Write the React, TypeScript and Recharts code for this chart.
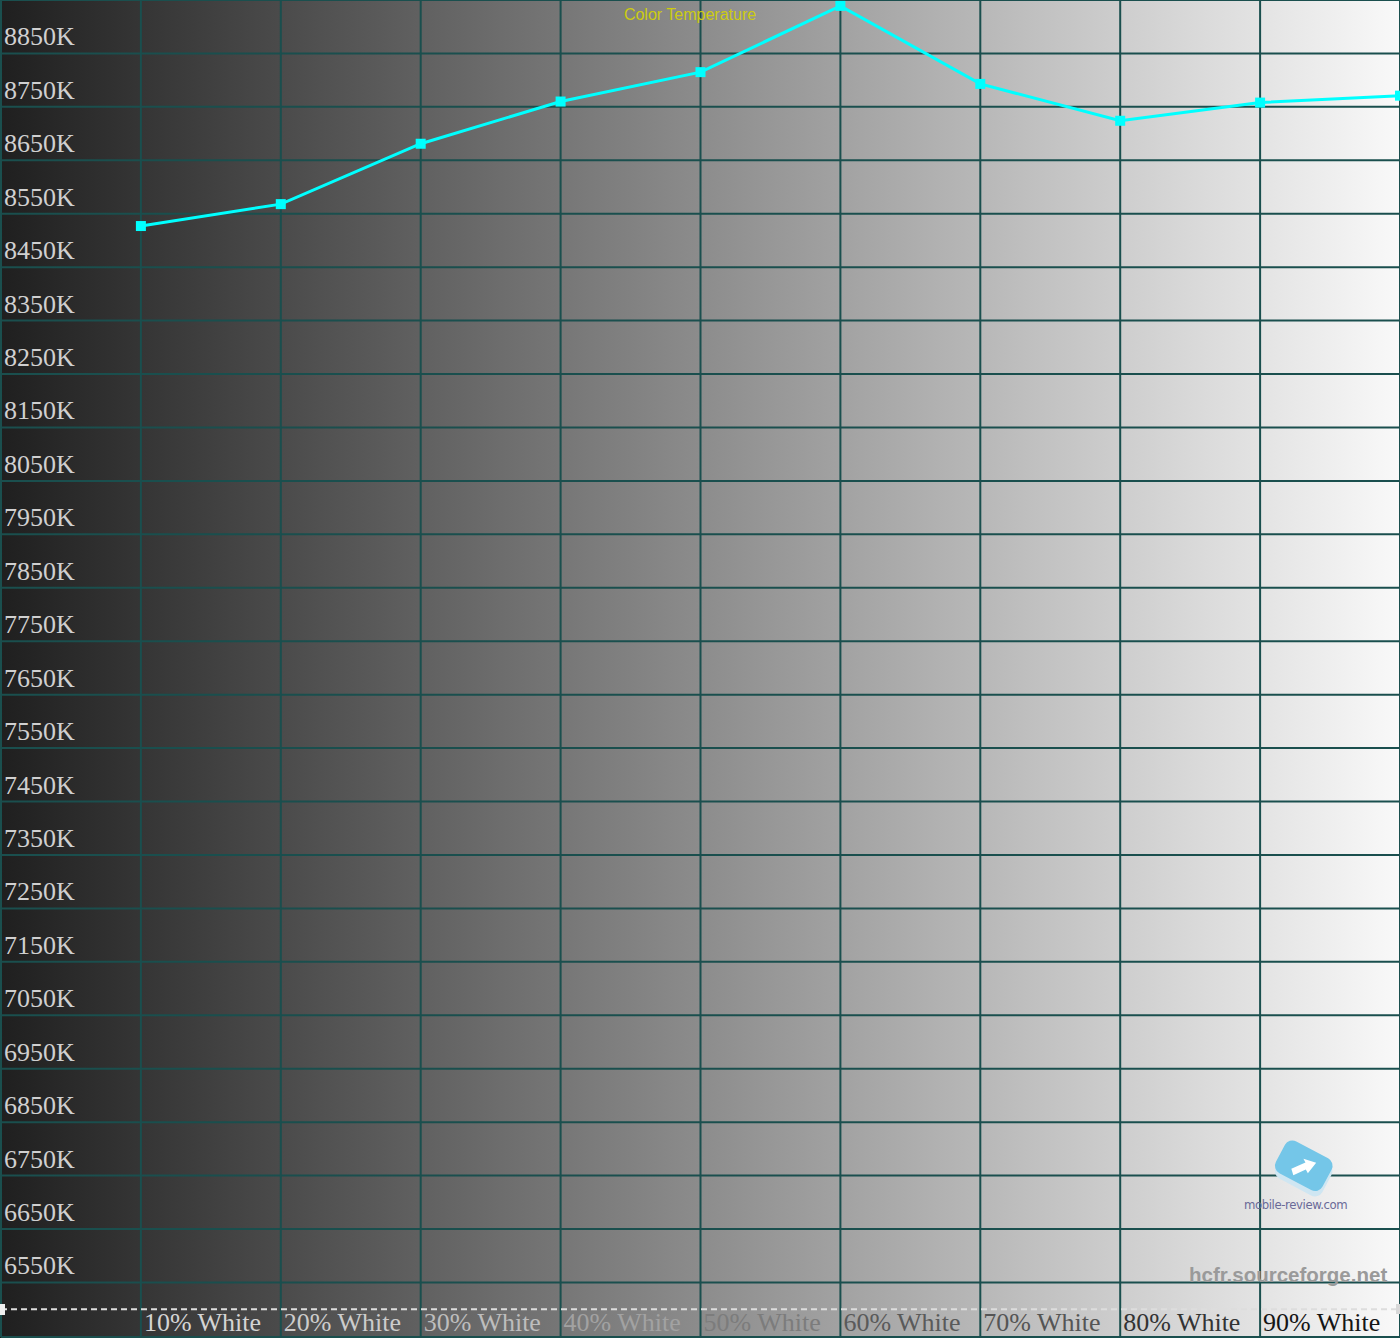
import React from 'react';
import { LineChart, Line, XAxis, YAxis, CartesianGrid, ReferenceLine } from 'recharts';

const levels = [10, 20, 30, 40, 50, 60, 70, 80, 90, 100];
const tempK = [8527, 8568, 8681, 8760, 8815, 8939, 8793, 8724, 8758, 8771];
const yTicks = [6550, 6650, 6750, 6850, 6950, 7050, 7150, 7250, 7350, 7450, 7550, 7650, 7750, 7850, 7950, 8050, 8150, 8250, 8350, 8450, 8550, 8650, 8750, 8850];
// label colours as they appear over the grey ramp
const xLabelColors = ['#d4d4d4', '#cccccc', '#bdbdbd', '#a2a2a2', '#7c7c7c', '#5a5a5a', '#555555', '#333333', '#151515', '#111111'];

const data = levels.map((lv, i) => ({ level: lv, temp: tempK[i] }));

const W = 1400;
const H = 1338;
const GRID = '#1a4f4e';
const serif = '"Liberation Serif", "Times New Roman", serif';

const SquareDot = (props: any) => {
  const { cx, cy } = props;
  if (cx == null || cy == null) return null;
  return <rect x={cx - 5} y={cy - 5} width={10} height={10} fill="#00ffff" />;
};

const renderYTick = (props: any) => {
  const { y, payload } = props;
  return (
    <text key={`y-${payload.value}`} x={4} y={y - 8} fill="#d0d0d0" fontFamily={serif} fontSize={26} textAnchor="start">
      {payload.value}K
    </text>
  );
};

const renderXTick = (props: any) => {
  const { x, payload, index } = props;
  // the 100% label falls past the right edge in the original, so it is not drawn
  if (payload.value >= 100) return <g key="x-last" />;
  return (
    <text key={`x-${payload.value}`} x={x + 3} y={H - 7} fill={xLabelColors[index] || '#111'} fontFamily={serif} fontSize={26} textAnchor="start">
      {payload.value}% White
    </text>
  );
};

export default function App() {
  return (
    <div
      style={{
        position: 'absolute',
        left: 0,
        top: 0,
        width: W,
        height: H,
        overflow: 'hidden',
        background: 'linear-gradient(to right, #1f1f1f, #f9f9f9)',
      }}
    >
      <LineChart width={W} height={H} data={data} margin={{ top: 0, right: 0, bottom: 0, left: 0 }} style={{ overflow: 'visible' }}>
        <CartesianGrid stroke={GRID} strokeWidth={2} vertical horizontal />
        <XAxis
          dataKey="level"
          type="number"
          domain={[0, 100]}
          ticks={levels}
          height={1}
          axisLine={false}
          tickLine={false}
          tick={renderXTick}
          interval={0}
        />
        <YAxis
          type="number"
          domain={[6448, 8950]}
          ticks={yTicks}
          width={1}
          axisLine={false}
          tickLine={false}
          tick={renderYTick}
          interval={0}
          allowDataOverflow
        />
        <ReferenceLine y={6500} stroke="#dddddd" strokeWidth={2} strokeDasharray="6 4" />
        <Line
          type="linear"
          dataKey="temp"
          stroke="#00ffff"
          strokeWidth={3}
          dot={<SquareDot />}
          activeDot={false}
          isAnimationActive={false}
        />
      </LineChart>
      <div style={{ position: 'absolute', left: 0, top: 6, width: W - 20, textAlign: 'center', fontFamily: 'Arial, "Liberation Sans", sans-serif', fontSize: 16, color: '#cccc10' }}>
        Color Temperature
      </div>
      <div style={{ position: 'absolute', left: 0, top: 1304, width: 5, height: 11, background: '#eeeeee' }} />
      <div style={{ position: 'absolute', left: 1396, top: 1304, width: 4, height: 10, background: '#d8d8d8' }} />
      <svg style={{ position: 'absolute', left: 1258, top: 1136 }} width={80} height={70}>
        <g transform="translate(2 2) scale(1.2) rotate(28 35 28)">
          <rect x={14} y={12} width={44} height={30} rx={7} fill="#cfe6f2" />
          <rect x={12} y={8} width={44} height={30} rx={7} fill="#74c6e8" />
          <path d="M26 30 L34 20 L31 18 L42 16 L40 27 L37 25 L30 34 Z" fill="#ffffff" />
        </g>
      </svg>
      <div style={{ position: 'absolute', left: 1244, top: 1197, fontFamily: '"Liberation Sans Narrow", "DejaVu Sans Condensed", sans-serif', fontSize: 13, color: '#6a6a98', letterSpacing: -0.4 }}>
        mobile-review.com
      </div>
      <div style={{ position: 'absolute', left: 1189, top: 1263, fontFamily: 'Arial, "Liberation Sans", sans-serif', fontWeight: 'bold', fontSize: 20.5, color: '#9a9a9a' }}>
        hcfr.sourceforge.net
      </div>
    </div>
  );
}
